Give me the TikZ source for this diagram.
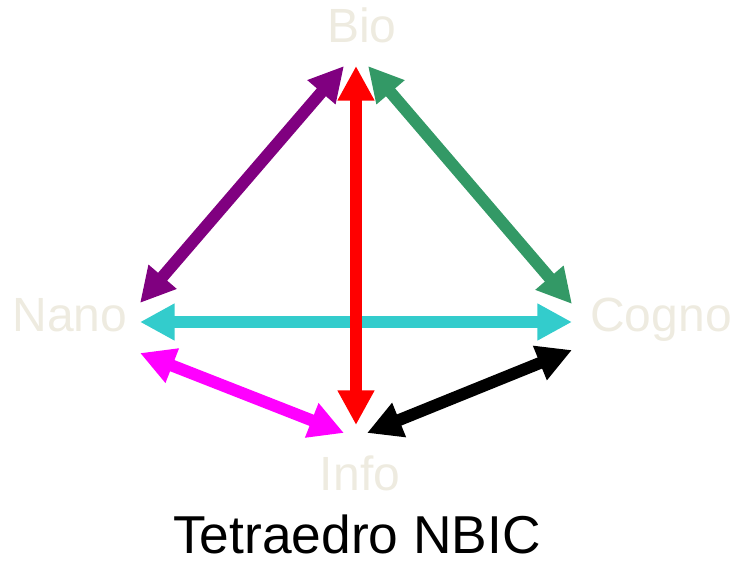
\documentclass[tikz,border=0pt]{standalone}
\usepackage{fontspec}
\setmainfont{Liberation Sans}
\usepackage{tikz}
\usetikzlibrary{arrows.meta}
\usepackage{xcolor}
\definecolor{labgray}{HTML}{EEEBE0}
\definecolor{nbpurple}{HTML}{800080}
\definecolor{nbgreen}{HTML}{339966}
\definecolor{nbcyan}{HTML}{33CCCC}
\definecolor{nbmagenta}{HTML}{FF00FF}

\begin{document}
\begin{tikzpicture}[
    x=0.75pt, y=-0.75pt,
    vertex/.style={font=\fontsize{36}{40}\selectfont, text=labgray, inner sep=0pt, anchor=base},
    title/.style={font=\fontsize{40}{44}\selectfont, text=black, inner sep=0pt, anchor=base},
    arr/.style={{Triangle[length=26pt, width=26pt]}-{Triangle[length=26pt, width=26pt]}, line width=9pt}
  ]
    \useasboundingbox (0,0) rectangle (732,565);
    \node[vertex] (bio) at (362,42) {Bio};
    \node[vertex] (nano) at (70,331) {Nano};
    \node[vertex] (cogno) at (661,331) {Cogno};
    \node[vertex] (info) at (360,490) {Info};
    \node[title] (ttl) at (357,553) {Tetraedro NBIC};
    % arrow ends
    \coordinate (bioL) at (344,66);
    \coordinate (bioM) at (356,66);
    \coordinate (bioR) at (368,66);
    \coordinate (nanoT) at (140,303);
    \coordinate (nanoM) at (140,322);
    \coordinate (nanoB) at (140,353);
    \coordinate (cognoT) at (572,304);
    \coordinate (cognoM) at (572,322);
    \coordinate (cognoB) at (572,350);
    \coordinate (infoL) at (344,433);
    \coordinate (infoM) at (356,425);
    \coordinate (infoR) at (367,433);
    \draw[arr, nbpurple] (bioL) -- (nanoT);
    \draw[arr, nbgreen] (bioR) -- (cognoT);
    \draw[arr, nbcyan] (nanoM) -- (cognoM);
    \draw[arr, red] (bioM) -- (infoM);
    \draw[arr, nbmagenta] (nanoB) -- (infoL);
    \draw[arr, black] (infoR) -- (cognoB);
  \end{tikzpicture}
\end{document}
